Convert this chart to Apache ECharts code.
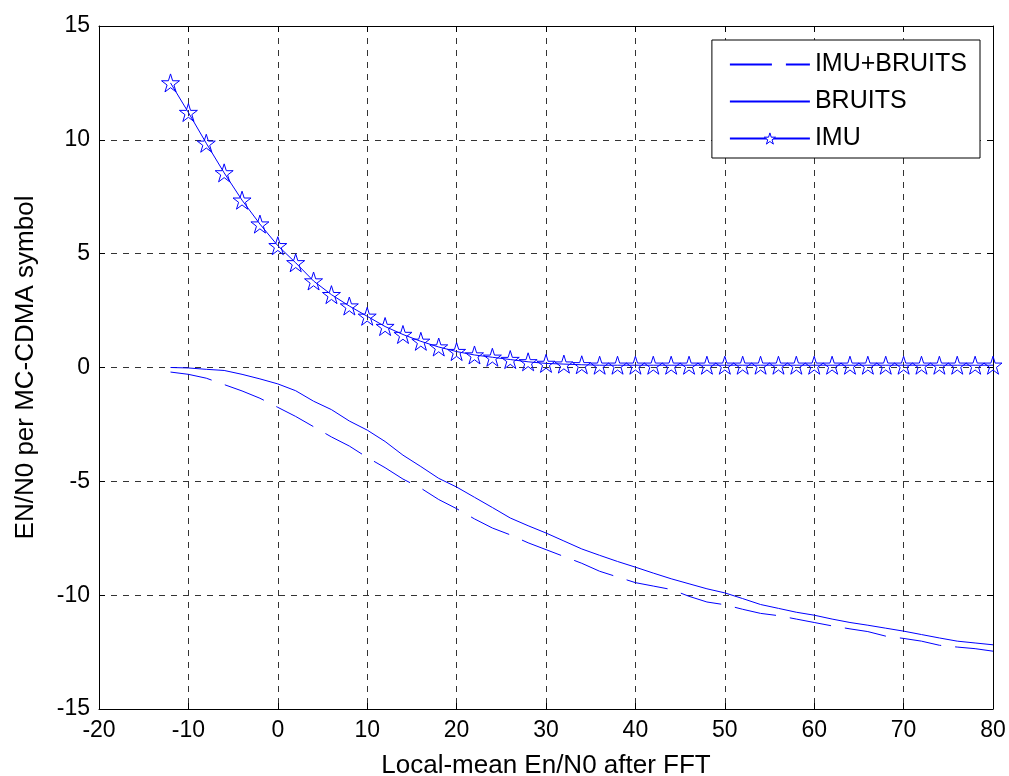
<!DOCTYPE html>
<html><head><meta charset="utf-8">
<script src="https://cdn.jsdelivr.net/npm/echarts@6/dist/echarts.min.js"></script>
<style>html,body{margin:0;padding:0;background:#fff}#c{width:1009px;height:776px}</style>
</head><body><div id="c"></div>
<script>
const xVals = [-12,-10,-8,-6,-4,-2,0,2,4,6,8,10,12,14,16,18,20,22,24,26,28,30,32,34,36,38,40,42,44,46,48,50,52,54,56,58,60,62,64,66,68,70,72,74,76,78,80];
const imuBruits = [-0.2,-0.3,-0.47,-0.75,-1.03,-1.35,-1.75,-2.15,-2.6,-3.05,-3.45,-3.95,-4.4,-4.9,-5.3,-5.8,-6.2,-6.65,-7.05,-7.35,-7.7,-8.0,-8.3,-8.6,-8.95,-9.2,-9.45,-9.6,-9.75,-10.05,-10.3,-10.42,-10.62,-10.8,-10.9,-11.05,-11.2,-11.35,-11.48,-11.6,-11.8,-11.9,-12.02,-12.2,-12.28,-12.35,-12.46];
const bruits = [0,-0.02,-0.08,-0.13,-0.3,-0.5,-0.72,-1.02,-1.48,-1.85,-2.35,-2.75,-3.25,-3.85,-4.35,-4.87,-5.25,-5.7,-6.15,-6.61,-6.95,-7.27,-7.62,-7.97,-8.25,-8.52,-8.77,-9.03,-9.28,-9.5,-9.72,-9.9,-10.15,-10.41,-10.58,-10.75,-10.88,-11.05,-11.2,-11.32,-11.45,-11.58,-11.73,-11.88,-12.02,-12.1,-12.18];
const imu = [12.5,11.2,9.85,8.55,7.35,6.3,5.35,4.6,3.8,3.2,2.7,2.25,1.8,1.45,1.15,0.9,0.7,0.55,0.45,0.35,0.25,0.18,0.15,0.12,0.1,0.1,0.1,0.1,0.1,0.1,0.1,0.1,0.1,0.1,0.1,0.1,0.1,0.1,0.1,0.1,0.1,0.1,0.1,0.1,0.1,0.1,0.1];
const seriesNames = ['IMU+BRUITS','BRUITS','IMU'];
const xTitle = 'Local-mean En/N0 after FFT';
const yTitle = 'EN/N0 per MC-CDMA symbol';

const pair = (ys) => xVals.map((x,i)=>[x,ys[i]]);
const starPath = 'path://M50,0 L61.8,36.2 L100,36.2 L69.1,58.8 L80.9,95.1 L50,72.7 L19.1,95.1 L30.9,58.8 L0,36.2 L38.2,36.2 Z';
const font = 'Liberation Sans, Arial, sans-serif';
const blue = '#0000ff';
const chart = echarts.init(document.getElementById('c'), null, {renderer:'canvas'});
const gridLine = {show:true, lineStyle:{color:'#333', type:[6,6], width:1}};
chart.setOption({
  animation:false,
  backgroundColor:'#fff',
  grid:{left:99, right:16, top:26, bottom:67, containLabel:false, outerBoundsMode:'none'},
  legend:{
    data:[
      {name:seriesNames[0], itemStyle:{opacity:0}},
      {name:seriesNames[1], itemStyle:{opacity:0}},
      {name:seriesNames[2], itemStyle:{color:'#ffffff', borderColor:blue, borderWidth:1}}
    ],
    orient:'vertical', right:29, top:40,
    backgroundColor:'#fff', borderColor:'#000', borderWidth:1,
    padding:[12,13,7,17], itemWidth:80, itemHeight:14, itemGap:12,
    textStyle:{fontFamily:font, fontSize:25, color:'#000'}
  },
  xAxis:[{
    type:'value', min:-20, max:80, interval:10,
    name:xTitle, nameLocation:'middle', nameGap:44,
    nameTextStyle:{fontFamily:font, fontSize:26, color:'#000'},
    axisLine:{show:true, onZero:false, lineStyle:{color:'#000'}},
    axisTick:{show:true, inside:true, length:6, lineStyle:{color:'#000'}},
    axisLabel:{fontFamily:font, fontSize:23, color:'#000', margin:10},
    splitLine:gridLine
  },{
    type:'value', min:-20, max:80, interval:10, position:'top',
    axisLine:{show:true, onZero:false, lineStyle:{color:'#000'}},
    axisTick:{show:true, inside:true, length:6, lineStyle:{color:'#000'}},
    axisLabel:{show:false}, splitLine:{show:false}
  }],
  yAxis:[{
    type:'value', min:-15, max:15, interval:5,
    name:yTitle, nameLocation:'middle', nameGap:60, nameRotate:90,
    nameTextStyle:{fontFamily:font, fontSize:26, color:'#000'},
    axisLine:{show:true, onZero:false, lineStyle:{color:'#000'}},
    axisTick:{show:true, inside:true, length:6, lineStyle:{color:'#000'}},
    axisLabel:{fontFamily:font, fontSize:23, color:'#000', margin:9},
    splitLine:gridLine
  },{
    type:'value', min:-15, max:15, interval:5, position:'right',
    axisLine:{show:true, onZero:false, lineStyle:{color:'#000'}},
    axisTick:{show:true, inside:true, length:6, lineStyle:{color:'#000'}},
    axisLabel:{show:false}, splitLine:{show:false}
  }],
  series:[
    {name:seriesNames[0], type:'line', data:pair(imuBruits), showSymbol:false, symbol:'none',
     lineStyle:{color:blue, width:1, type:[42,14]}, itemStyle:{color:blue}},
    {name:seriesNames[1], type:'line', data:pair(bruits), showSymbol:false, symbol:'none',
     lineStyle:{color:blue, width:1}, itemStyle:{color:blue}},
    {name:seriesNames[2], type:'line', data:pair(imu), symbol:starPath, symbolSize:18,
     lineStyle:{color:blue, width:1}, itemStyle:{color:'rgba(255,255,255,0)', borderColor:blue, borderWidth:1}}
  ]
});
</script></body></html>
